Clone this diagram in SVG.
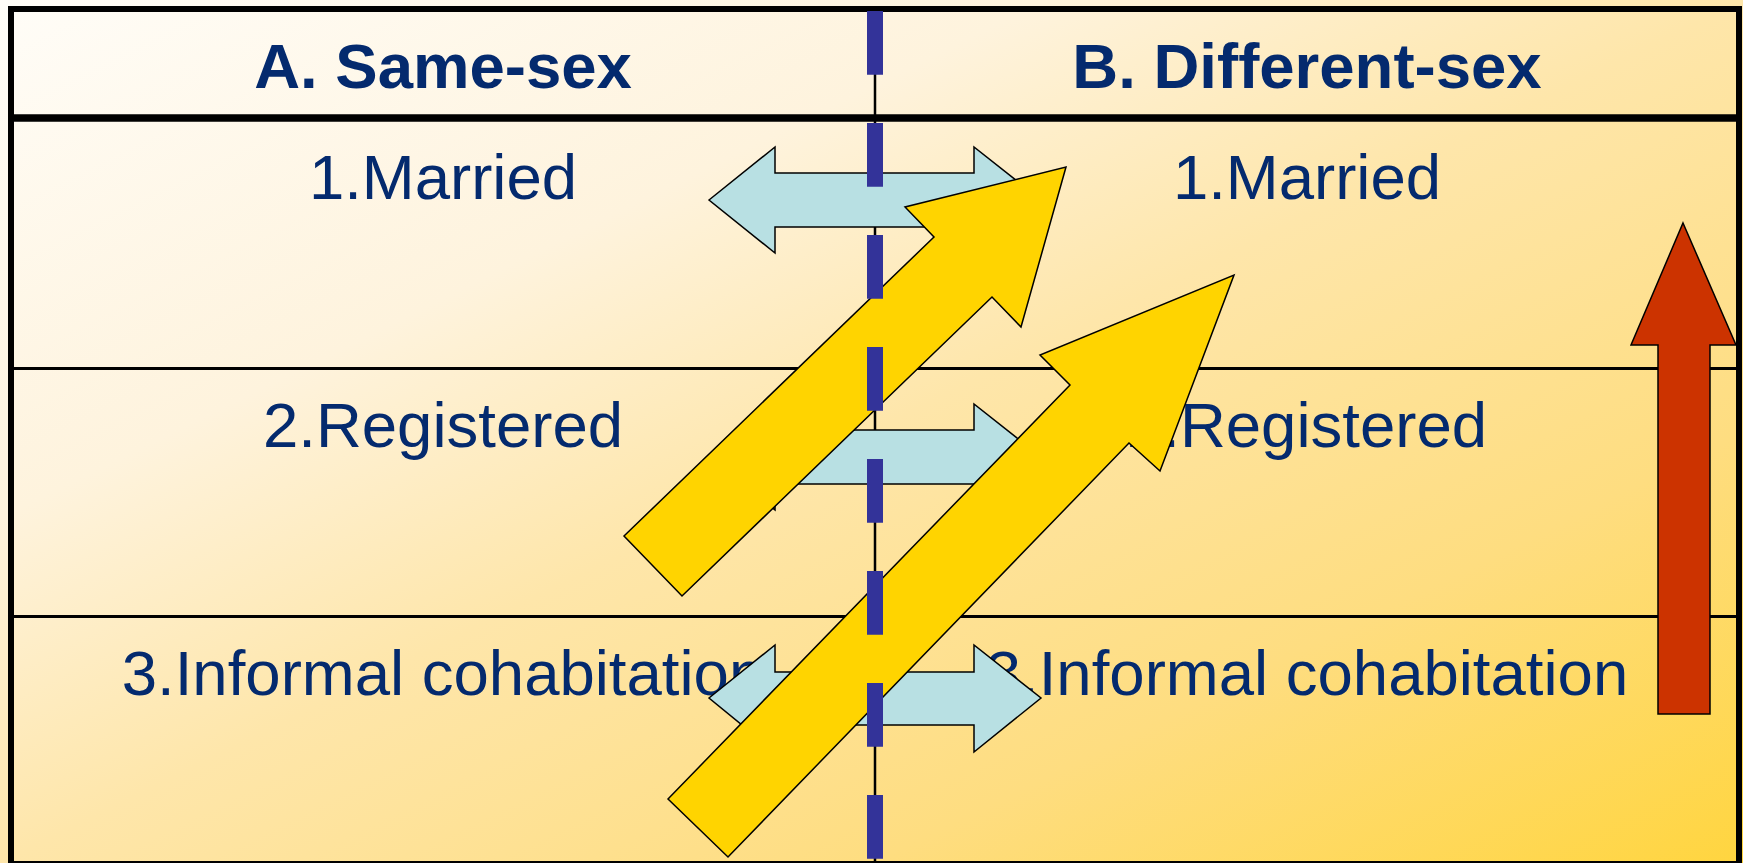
<svg xmlns="http://www.w3.org/2000/svg" width="1743" height="863" viewBox="0 0 1743 863">
  <defs>
    <linearGradient id="bg" x1="0" y1="0" x2="1" y2="1">
      <stop offset="0" stop-color="#FFFDF8"/>
      <stop offset="0.3" stop-color="#FEF3DD"/>
      <stop offset="0.5" stop-color="#FEE6AA"/>
      <stop offset="0.75" stop-color="#FEDD80"/>
      <stop offset="1" stop-color="#FFD53F"/>
    </linearGradient>
    <style>
      .hdr { font-family: "Liberation Sans", Arial, sans-serif; font-weight: bold; font-size: 63.5px; fill: #042A6E; text-anchor: middle; }
      .lbl { font-family: "Liberation Sans", Arial, sans-serif; font-size: 63.5px; fill: #042A6E; text-anchor: middle; }
      .blue { fill: #B8E0E3; stroke: #000; stroke-width: 1.5; stroke-linejoin: miter; }
      .yellow { fill: #FFD400; stroke: #000; stroke-width: 1.5; stroke-linejoin: miter; }
      .red { fill: #CC3300; stroke: #000; stroke-width: 1.5; }
      .line { stroke: #000; fill: none; }
    </style>
  </defs>

  <rect x="0" y="0" width="1743" height="863" fill="url(#bg)"/>

  <g id="table">
    <rect x="11" y="9" width="1728" height="855" class="line" stroke-width="6"/>
    <line x1="11" y1="118" x2="1739" y2="118" class="line" stroke-width="7.5"/>
    <line x1="11" y1="368.5" x2="1739" y2="368.5" class="line" stroke-width="3"/>
    <line x1="11" y1="616.5" x2="1739" y2="616.5" class="line" stroke-width="3"/>
    <line x1="875" y1="9" x2="875" y2="863" class="line" stroke-width="2.5"/>
  </g>

  <g id="headers">
    <text class="hdr" x="443" y="88">A. Same-sex</text>
    <text class="hdr" x="1307" y="88">B. Different-sex</text>
  </g>

  <g id="labels-A">
    <text class="lbl" x="443" y="199">1.Married</text>
    <text class="lbl" x="443" y="447">2.Registered</text>
    <text class="lbl" x="443" y="695">3.Informal cohabitation</text>
  </g>
  <g id="labels-B">
    <text class="lbl" x="1307" y="199">1.Married</text>
    <text class="lbl" x="1307" y="447">2.Registered</text>
    <text class="lbl" x="1307" y="695">3.Informal cohabitation</text>
  </g>

  <g id="connectors">
    <polygon id="dbl1" class="blue" points="709,200 775,147 775,173 974,173 974,147 1041,200 974,253 974,227 775,227 775,253"/>
    <polygon id="dbl2" class="blue" points="709,457 775,404 775,430 974,430 974,404 1041,457 974,510 974,484 775,484 775,510"/>
    <polygon id="dbl3" class="blue" points="709,698 775,645 775,672 974,672 974,645 1041,698 974,752 974,725 775,725 775,752"/>
    <polygon id="up1" class="yellow" points="624,536 934,237 905,207 1066,167 1021,327 992,297 682,596"/>
    <polygon id="up2" class="yellow" points="668,799 1070,385 1040,355 1234,275 1160,471 1129,443 728,857"/>
    <polygon id="rise" class="red" points="1683,223 1736,345 1710,345 1710,714 1658,714 1658,345 1631,345"/>
    <line id="divider" x1="875" y1="11" x2="875" y2="863" stroke="#333399" stroke-width="16" stroke-dasharray="63.7 48.3"/>
  </g>
</svg>
